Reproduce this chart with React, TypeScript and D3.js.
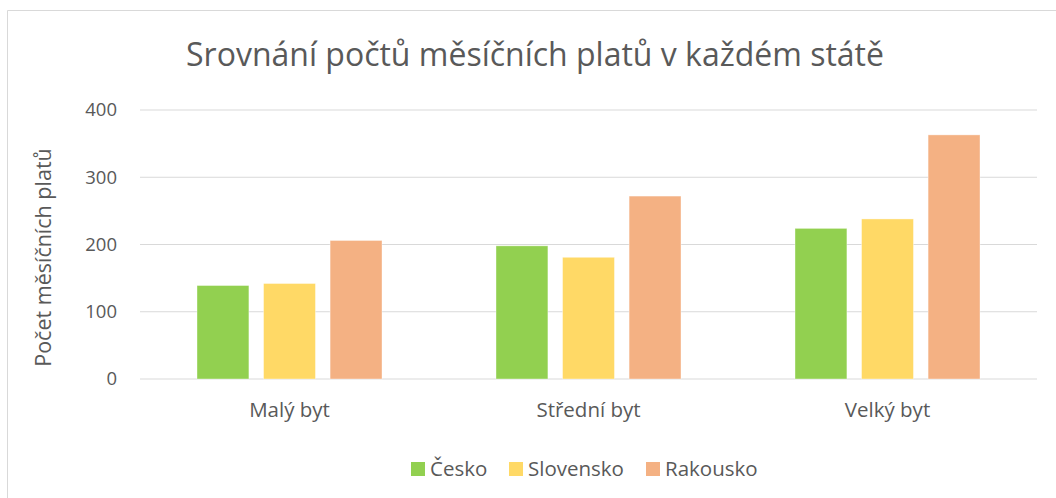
import React from 'react'
import * as d3 from 'd3'

const categories = ['Malý byt', 'Střední byt', 'Velký byt']
const seriesNames = ['Česko', 'Slovensko', 'Rakousko']
const cesko = [139, 198, 224]
const slovensko = [142, 181, 238]
const rakousko = [206, 272, 363]
const yTicks = [0, 100, 200, 300, 400]
const colors = ['#92D050', '#FFD966', '#F4B183']

const width = 1056
const height = 498
const font = "'Open Sans', 'Noto Sans', sans-serif"
const textColor = '#595959'

export default function App() {
  const values = [cesko, slovensko, rakousko]

  const x = d3.scaleBand().domain(categories).range([140, 1037])
  const x1 = d3.scaleBand()
    .domain(seriesNames)
    .range([57, x.bandwidth() - 57])
    .paddingInner(0.22)
  const y = d3.scaleLinear().domain([0, 400]).range([379, 110])

  // legend layout
  const legendX = [411, 509, 646]

  return (
    <svg width={width} height={height} style={{ position: 'absolute', left: 0, top: 0 }} fontFamily={font}>
      <rect x={0} y={0} width={width} height={height} fill="#fff" />
      <path d={`M7.5,${height}V10.5H${width}`} fill="none" stroke="#d9d9d9" strokeWidth={1} />

      <text x={535} y={66} textAnchor="middle" fontSize={32} fill={textColor}>
        Srovnání počtů měsíčních platů v každém státě
      </text>

      {yTicks.map(t => (
        <g key={t}>
          <line x1={140} x2={1037} y1={y(t)} y2={y(t)} stroke="#d9d9d9" strokeWidth={1.2} />
          <text x={117} y={y(t)} dy="0.35em" textAnchor="end" fontSize={18.5} fill={textColor}>{t}</text>
        </g>
      ))}

      <text transform={`translate(51,${(140 + 375) / 2}) rotate(-90)`} textAnchor="middle" fontSize={21.5} fill={textColor}>
        Počet měsíčních platů
      </text>

      {categories.map((c, ci) => (
        <g key={c} transform={`translate(${x(c)},0)`}>
          {seriesNames.map((s, si) => (
            <rect
              key={s}
              x={x1(s)}
              y={y(values[si][ci])}
              width={x1.bandwidth()}
              height={y(0) - y(values[si][ci])}
              fill={colors[si]}
              stroke="#fff"
              strokeOpacity={0.5}
              strokeWidth={0.75}
            />
          ))}
          <text x={x.bandwidth() / 2} y={417} textAnchor="middle" fontSize={20.5} fill={textColor}>{c}</text>
        </g>
      ))}

      {seriesNames.map((s, i) => (
        <g key={s} transform={`translate(${legendX[i]},0)`}>
          <rect x={0} y={462} width={14} height={14} fill={colors[i]} />
          <text x={19} y={476} fontSize={20.5} fill={textColor}>{s}</text>
        </g>
      ))}
    </svg>
  )
}
